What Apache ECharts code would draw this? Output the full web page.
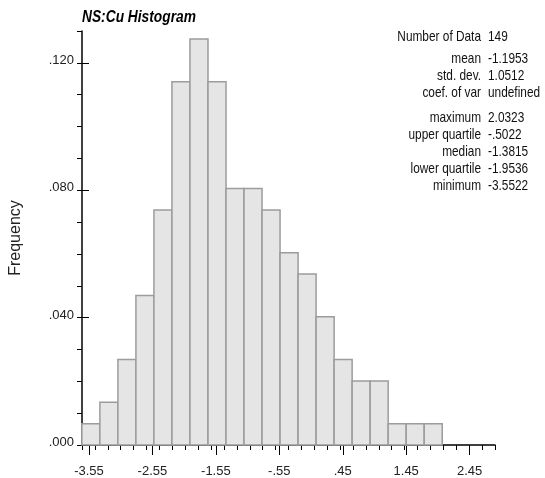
<!DOCTYPE html>
<html>
<head>
<meta charset="utf-8">
<script src="https://cdn.jsdelivr.net/npm/echarts@6/dist/echarts.min.js"></script>
<style>
  html, body { margin: 0; padding: 0; background: #fff; }
  #chart { width: 545px; height: 478px; }
</style>
</head>
<body>
<div id="chart"></div>
<script>
// NS:Cu sample histogram: 20 equal-width classes spanning the data range.
const binCounts = [1, 2, 4, 7, 11, 17, 19, 17, 12, 12, 11, 9, 8, 6, 4, 3, 3, 1, 1, 1];
const dataMin = -3.5522;
const dataMax = 2.0323;
const nData = 149;

// Axis tick labels
const xMajorTicks = [-3.55, -2.55, -1.55, -0.55, 0.45, 1.45, 2.45];
const yMajorTicks = [0, 0.04, 0.08, 0.12];

// Summary statistics panel
const statLabels = ['Number of Data', 'mean', 'std. dev.', 'coef. of var',
                    'maximum', 'upper quartile', 'median', 'lower quartile', 'minimum'];
const statValues = ['149', '-1.1953', '1.0512', 'undefined',
                    '2.0323', '-.5022', '-1.3815', '-1.9536', '-3.5522'];

const binWidth = (dataMax - dataMin) / binCounts.length;
const histData = binCounts.map((c, i) => [dataMin + i * binWidth, dataMin + (i + 1) * binWidth, c / nData]);

const BASE_FONT = "'Liberation Sans', Arial, sans-serif";

const fmtX = v => v.toFixed(2).replace(/^(-?)0\./, '$1.');
const fmtY = v => v.toFixed(3).replace(/^0\./, '.');

const gridBox = { left: 82, right: 50, top: 31, bottom: 33 };

// statistics panel, condensed sans text (text centre y per row)
const statRowY = [37, 59, 76, 93, 118, 135, 152, 169, 186];
const statGraphics = [];
statLabels.forEach((t, i) => {
  statGraphics.push({
    type: 'text', x: 481, y: statRowY[i], scaleX: 0.79,
    style: { text: t, font: "15px " + BASE_FONT, fill: '#111', align: 'right', verticalAlign: 'middle' }
  });
  statGraphics.push({
    type: 'text', x: 488, y: statRowY[i], scaleX: 0.79,
    style: { text: statValues[i], font: "15px " + BASE_FONT, fill: '#111', align: 'left', verticalAlign: 'middle' }
  });
});
// chart title
statGraphics.push({
  type: 'text', x: 82, y: 17.5, scaleX: 0.86,
  style: { text: 'NS:Cu Histogram', font: "italic bold 16px " + BASE_FONT, fill: '#000',
           align: 'left', verticalAlign: 'middle' }
});

const chart = echarts.init(document.getElementById('chart'));
chart.setOption({
  animation: false,
  backgroundColor: '#fff',
  grid: [
    Object.assign({}, gridBox),
    Object.assign({}, gridBox)
  ],
  xAxis: [
    {
      type: 'value', gridIndex: 0, min: -3.55, max: 2.85, interval: 0.2,
      axisLine: { show: true, onZero: false, lineStyle: { color: '#000', width: 1.5 } },
      axisTick: { show: true, length: 5, lineStyle: { color: '#000', width: 1 } },
      axisLabel: { show: false },
      splitLine: { show: false }
    },
    {
      type: 'value', gridIndex: 1, min: -3.55, max: 2.85, interval: 1,
      axisLine: { show: false, onZero: false },
      axisTick: { show: true, length: 10, customValues: xMajorTicks, lineStyle: { color: '#000', width: 1 } },
      axisLabel: {
        show: true, customValues: xMajorTicks, formatter: fmtX, margin: 20,
        fontFamily: BASE_FONT, fontSize: 13, color: '#222'
      },
      splitLine: { show: false }
    }
  ],
  yAxis: [
    {
      type: 'value', gridIndex: 0, min: 0, max: 0.13, interval: 0.01,
      axisLine: { show: true, onZero: false, lineStyle: { color: '#000', width: 1.5 } },
      axisTick: { show: true, length: 5, lineStyle: { color: '#000', width: 1 } },
      axisLabel: { show: false },
      splitLine: { show: false }
    },
    {
      type: 'value', gridIndex: 1, min: 0, max: 0.13, interval: 0.01,
      axisLine: { show: false, onZero: false },
      axisTick: { show: true, length: 10, customValues: yMajorTicks, lineStyle: { color: '#000', width: 1 } },
      axisLabel: {
        show: true, customValues: yMajorTicks, formatter: fmtY, margin: 15,
        fontFamily: BASE_FONT, fontSize: 13, color: '#222',
        verticalAlign: 'bottom', lineHeight: 5
      },
      name: 'Frequency', nameLocation: 'middle', nameGap: 65,
      nameTextStyle: { fontFamily: BASE_FONT, fontSize: 16, color: '#222' },
      splitLine: { show: false }
    }
  ],
  graphic: statGraphics,
  series: [{
    type: 'custom',
    xAxisIndex: 0, yAxisIndex: 0,
    clip: false,
    data: histData,
    renderItem: (params, api) => {
      const p0 = api.coord([api.value(0), 0]);
      const p1 = api.coord([api.value(1), api.value(2)]);
      return {
        type: 'rect',
        shape: { x: p0[0], y: p1[1], width: p1[0] - p0[0], height: p0[1] - p1[1] },
        style: { fill: '#e5e5e5', stroke: '#9c9c9c', lineWidth: 1.5 }
      };
    },
    z: 1
  }]
});
</script>
</body>
</html>
